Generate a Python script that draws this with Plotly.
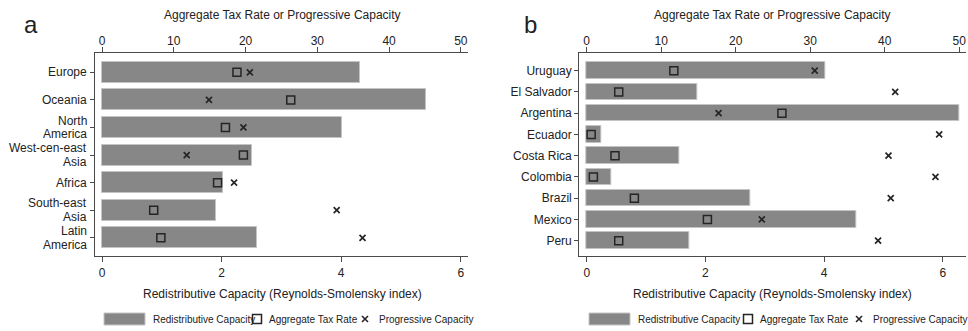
import plotly.graph_objects as go

# ---- data -------------------------------------------------------------
regions = ["Europe", "Oceania", "North America", "West-cen-east Asia",
           "Africa", "South-east Asia", "Latin America"]
region_lines = [["Europe"], ["Oceania"], ["North", "America"],
                ["West-cen-east", "Asia"], ["Africa"],
                ["South-east", "Asia"], ["Latin", "America"]]
region_rs = [4.31, 5.42, 4.02, 2.50, 2.02, 1.91, 2.60]
region_tax = [18.8, 26.3, 17.2, 19.7, 16.1, 7.2, 8.2]
region_prog = [20.6, 14.9, 19.7, 11.8, 18.4, 32.7, 36.3]

countries = ["Uruguay", "El Salvador", "Argentina", "Ecuador", "Costa Rica",
             "Colombia", "Brazil", "Mexico", "Peru"]
country_rs = [4.02, 1.86, 6.28, 0.25, 1.56, 0.41, 2.75, 4.54, 1.73]
country_tax = [11.7, 4.3, 26.2, 0.6, 3.8, 0.9, 6.4, 16.2, 4.3]
country_prog = [30.6, 41.4, 17.7, 47.3, 40.5, 46.8, 40.8, 23.5, 39.1]

bottom_ticks = [0, 2, 4, 6]
top_ticks = [0, 10, 20, 30, 40, 50]

# ---- styling ----------------------------------------------------------
W, H = 968, 331
FONT = "Liberation Sans, Arial, sans-serif"
BAR = "#878787"
BAR_EDGE = "#c4c4c4"
INK = "#252525"
AXIS = "#4a4a4a"
TXT = "#222"


def px(x):
    return x / W


def py(y):
    return 1 - y / H


fig = go.Figure()

panels = [
    dict(cats=regions, rs=region_rs, tax=region_tax, prog=region_prog,
         xb="x", xt="x2", y="y", x0=95, x1=468,
         brange=[-0.117, 6.12], trange=[-0.98, 51.0],
         yrange=[6.66, -0.70], bw=0.76, labels=False),
    dict(cats=countries, rs=country_rs, tax=country_tax, prog=country_prog,
         xb="x3", xt="x4", y="y2", x0=579.3, x1=966,
         brange=[-0.125, 6.39], trange=[-0.99, 50.9],
         yrange=[8.72, -0.83], bw=0.78, labels=True),
]

for p in panels:
    fig.add_trace(go.Bar(
        x=p["rs"], y=p["cats"], orientation="h", width=p["bw"],
        xaxis=p["xb"], yaxis=p["y"],
        marker=dict(color=BAR, line=dict(color=BAR_EDGE, width=1)),
        showlegend=False, hoverinfo="x+y"))
    fig.add_trace(go.Scatter(
        x=p["tax"], y=p["cats"], mode="markers",
        xaxis=p["xt"], yaxis=p["y"],
        marker=dict(symbol="square-open", size=8, color=INK,
                    line=dict(width=1.5, color=INK)),
        showlegend=False))
    fig.add_trace(go.Scatter(
        x=p["prog"], y=p["cats"], mode="markers",
        xaxis=p["xt"], yaxis=p["y"],
        marker=dict(symbol="x-thin", size=6, color=INK,
                    line=dict(width=1.7, color=INK)),
        showlegend=False))

tickfont = dict(family=FONT, size=12, color=TXT)
common_axis = dict(showline=True, linecolor=AXIS, linewidth=1.2,
                   ticks="outside", ticklen=5, tickcolor=AXIS, tickwidth=1.2,
                   showgrid=False, zeroline=False, tickfont=tickfont,
                   fixedrange=True)

y_dom = [py(256), py(53)]
layout = dict(
    width=W, height=H, margin=dict(l=0, r=0, t=0, b=0),
    paper_bgcolor="white", plot_bgcolor="white", bargap=0,
    showlegend=False, font=dict(family=FONT, color=TXT),
)

for p in panels:
    dom = [px(p["x0"]), px(p["x1"])]
    xb_name = "xaxis" if p["xb"] == "x" else "xaxis" + p["xb"][1:]
    xt_name = "xaxis" + p["xt"][1:]
    y_name = "yaxis" if p["y"] == "y" else "yaxis" + p["y"][1:]
    layout[xb_name] = dict(common_axis, domain=dom, anchor=p["y"],
                           range=p["brange"], tickmode="array",
                           tickvals=bottom_ticks, side="bottom")
    layout[xt_name] = dict(common_axis, domain=dom, anchor=p["y"],
                           overlaying=p["xb"], side="top",
                           range=p["trange"], tickmode="array",
                           tickvals=top_ticks, ticklabelstandoff=-3)
    layout[y_name] = dict(common_axis, domain=y_dom, anchor=p["xb"],
                          range=p["yrange"], type="category",
                          categoryorder="array", categoryarray=p["cats"],
                          ticklen=4, showticklabels=p["labels"])

fig.update_layout(**layout)

# ---- panel titles, axis titles and legends ----------------------------
annotations = []
shapes = []


def text(x, y, s, size=12, xanchor="center"):
    annotations.append(dict(x=px(x), y=py(y), xref="paper", yref="paper",
                            text=s, showarrow=False, xanchor=xanchor,
                            yanchor="middle",
                            font=dict(family=FONT, size=size, color=TXT)))


# region labels, two-line ones set with tight leading
LEAD = 13.8
for cat, lines in zip(regions, region_lines):
    n = len(lines)
    for k, line in enumerate(lines):
        shift = (n - 1) * LEAD / 2 - k * LEAD
        annotations.append(dict(x=px(88), y=cat, xref="paper", yref="y",
                                text=line, showarrow=False, xanchor="right",
                                yanchor="middle", yshift=shift, borderpad=0,
                                font=dict(family=FONT, size=12, color=TXT)))

for letter, lx, cx, lg in [("a", 31, 282, (104, 257, 365)),
                           ("b", 530, 772, (589, 748, 859))]:
    text(lx, 24, letter, size=24)
    text(cx, 15, "Aggregate Tax Rate or Progressive Capacity", size=12)
    text(cx, 294, "Redistributive Capacity (Reynolds-Smolensky index)", size=12)

    rx, sx, xx = lg
    ly = 319
    shapes.append(dict(type="rect", xref="paper", yref="paper",
                       x0=px(rx), x1=px(rx + 41), y0=py(ly + 6), y1=py(ly - 6),
                       fillcolor=BAR, line=dict(color=BAR_EDGE, width=1)))
    text(rx + 47, ly, "Redistributive Capacity", size=10, xanchor="left")
    shapes.append(dict(type="rect", xref="paper", yref="paper",
                       x0=px(sx - 4.5), x1=px(sx + 4.5),
                       y0=py(ly + 4.5), y1=py(ly - 4.5),
                       fillcolor="rgba(0,0,0,0)",
                       line=dict(color=INK, width=1.5)))
    text(sx + 10, ly, "Aggregate Tax Rate", size=10, xanchor="left")
    for a, b in [(-3, 3), (3, -3)]:
        shapes.append(dict(type="line", xref="paper", yref="paper",
                           x0=px(xx - 3), x1=px(xx + 3),
                           y0=py(ly + a), y1=py(ly + b),
                           line=dict(color=INK, width=1.6)))
    text(xx + 12, ly, "Progressive Capacity", size=10, xanchor="left")

fig.update_layout(annotations=annotations, shapes=shapes)

fig.write_html("out.html")
